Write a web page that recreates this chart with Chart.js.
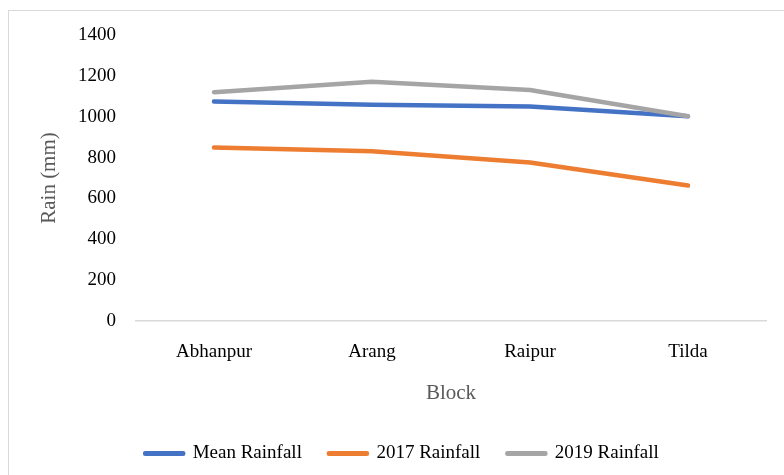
<!DOCTYPE html>
<html>
<head>
<meta charset="utf-8">
<script src="https://cdn.jsdelivr.net/npm/chart.js@4/dist/chart.umd.min.js"></script>
<style>
  body { margin: 0; background: #fff; }
  .frame { position: absolute; left: 8px; top: 10px; width: 820px; height: 520px; border: 1px solid #d9d9d9; }
  .wrap { position: absolute; left: 0; top: 0; width: 784px; height: 475px; }
</style>
</head>
<body>
<div class="frame"></div>
<div class="wrap"><canvas id="rain-chart"></canvas></div>
<script>
const blocks = ["Abhanpur", "Arang", "Raipur", "Tilda"];
const meanRainfall = [1074, 1058, 1050, 1002];
const rainfall2017 = [849, 831, 776, 663];
const rainfall2019 = [1120, 1171, 1131, 1002];
const yTicks = [0, 200, 400, 600, 800, 1000, 1200, 1400];

const font = "'Liberation Serif', 'Times New Roman', serif";

function line(label, data, color, order) {
    return {
        label: label,
        data: data,
        borderColor: color,
        backgroundColor: color,
        borderWidth: 4.5,
        borderCapStyle: "round",
        borderJoinStyle: "round",
        pointRadius: 0,
        tension: 0,
        order: order,
    };
}

const canvas = document.querySelector("#rain-chart");
const rainChart = new Chart(canvas, {
    type: "line",
    data: {
        labels: blocks,
        datasets: [
            line("Mean Rainfall", meanRainfall, "#4472c4", 3),
            line("2017 Rainfall", rainfall2017, "#ed7d31", 2),
            line("2019 Rainfall", rainfall2019, "#a5a5a5", 1),
        ],
    },
    options: {
        responsive: true,
        maintainAspectRatio: false,
        animation: false,
        layout: { padding: { left: 37, right: 17, top: 35, bottom: 2 } },
        plugins: {
            tooltip: { enabled: false },
            legend: {
                position: "bottom",
                labels: {
                    sort: (a, b) => a.datasetIndex - b.datasetIndex,
                    boxWidth: 38,
                    boxHeight: 0.5,
                    padding: 27,
                    color: "#000",
                    font: { family: font, size: 19 },
                },
            },
        },
        scales: {
            x: {
                offset: true,
                grid: { display: false, drawTicks: false },
                border: { display: false },
                ticks: { color: "#000", padding: 20, font: { family: font, size: 19 } },
                title: { display: true, text: "Block", color: "#595959", padding: { top: 0, bottom: 11 }, font: { family: font, size: 21 } },
                afterFit: (scale) => { scale.height = 96; },
            },
            y: {
                min: 0,
                max: 1400,
                afterBuildTicks: (scale) => { scale.ticks = yTicks.map((v) => ({ value: v })); },
                grid: {
                    drawTicks: false,
                    lineWidth: 1.5,
                    color: (ctx) => (ctx.tick && ctx.tick.value === 0 ? "#d9d9d9" : "rgba(0,0,0,0)"),
                },
                border: { display: false },
                ticks: { color: "#000", padding: 19, font: { family: font, size: 19 }, callback: (v) => String(v) },
                title: { display: true, text: "Rain (mm)", color: "#595959", padding: 0, font: { family: font, size: 21 } },
                afterFit: (scale) => { scale.width = 98; },
            },
        },
    },
});
</script>
</body>
</html>
